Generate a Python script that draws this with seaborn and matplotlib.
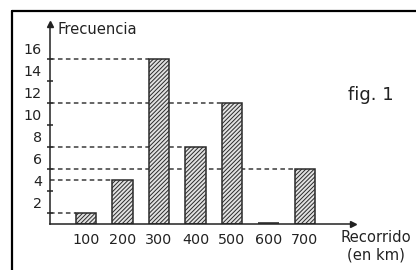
import matplotlib
matplotlib.use("Agg")
import matplotlib.pyplot as plt
import seaborn as sns
import pandas as pd
from matplotlib.lines import Line2D

recorrido = [100, 200, 300, 400, 500, 600, 700]
frecuencia = [1, 4, 15, 7, 11, 0, 5]
y_major = [2, 4, 6, 8, 10, 12, 14, 16]
y_minor = [1, 3, 5, 7, 9, 11, 13, 15]

sns.set_style("white")
plt.rcParams["font.family"] = ["DejaVu Sans"]
plt.rcParams["hatch.color"] = "#747474"
plt.rcParams["hatch.linewidth"] = 0.7

W, H = 416, 270
fig = plt.figure(figsize=(W / 100, H / 100), dpi=100)
ax = fig.add_axes([49.5 / W, 46 / H, 303.5 / W, 200 / H])

df = pd.DataFrame({"Recorrido": recorrido, "Frecuencia": frecuencia})
bw = 0.575
sns.barplot(data=df, x="Recorrido", y="Frecuencia", native_scale=True, width=bw,
            color="white", edgecolor="#2a2a2a", linewidth=1.1, saturation=1,
            ax=ax, zorder=3)
for p, f in zip(ax.patches, frecuencia):
    p.set_facecolor("#e2e2e2")
    p.set_hatch("////////")
    if f == 0:
        p.set_linewidth(2.6)
        p.set_zorder(5)

half = bw * 100 / 2
for x, f in zip(recorrido, frecuencia):
    if f > 0:
        ax.plot([0, x - half], [f, f], color="#3a3a3a", lw=1.1,
                dashes=(3.0, 2.2), zorder=1)

ax.set_xlim(0, 303.5 / 0.365)
ax.set_ylim(0, 200 / 11)
ax.set_xticks(recorrido)
ax.set_xticklabels([str(v) for v in recorrido])
ax.set_yticks(y_major)
ax.set_yticklabels([str(v) for v in y_major])
ax.set_yticks(y_minor, minor=True)
ax.set_xlabel("")
ax.set_ylabel("")

for s in ["top", "right"]:
    ax.spines[s].set_visible(False)
for s in ["left", "bottom"]:
    ax.spines[s].set_color("#222222")
    ax.spines[s].set_linewidth(1.1)
    ax.spines[s].set_zorder(4)

ax.tick_params(axis="both", which="major", direction="inout", length=6, width=1.1,
               color="#222222", labelsize=10.3, labelcolor="#222222", pad=2.5)
ax.tick_params(axis="y", which="minor", direction="inout", length=5, width=1.1,
               color="#222222", left=True)
ax.tick_params(axis="x", which="major", pad=3.5)

ax.plot(1, 0, ">", color="#222222", ms=5, transform=ax.get_yaxis_transform(), clip_on=False)
ax.plot(0, 1, "^", color="#222222", ms=5, transform=ax.get_xaxis_transform(), clip_on=False)

ax.text(23, 17.7, "Frecuencia", fontsize=10.6, color="#222222", va="center", ha="left")

fig.text(375.5 / W, 1 - 246 / H, "Recorrido\n(en km)", fontsize=10.6, color="#222222",
         ha="center", va="center", linespacing=1.2)
fig.text(371 / W, 1 - 95 / H, "fig. 1", fontsize=13, color="#222222",
         ha="center", va="center")

fig.add_artist(Line2D([12 / W, 1], [1 - 11 / H, 1 - 11 / H], color="black", lw=1.6,
                      transform=fig.transFigure))
fig.add_artist(Line2D([12 / W, 12 / W], [0, 1 - 11 / H], color="black", lw=1.6,
                      transform=fig.transFigure))

fig.savefig("out.png", dpi=100)
